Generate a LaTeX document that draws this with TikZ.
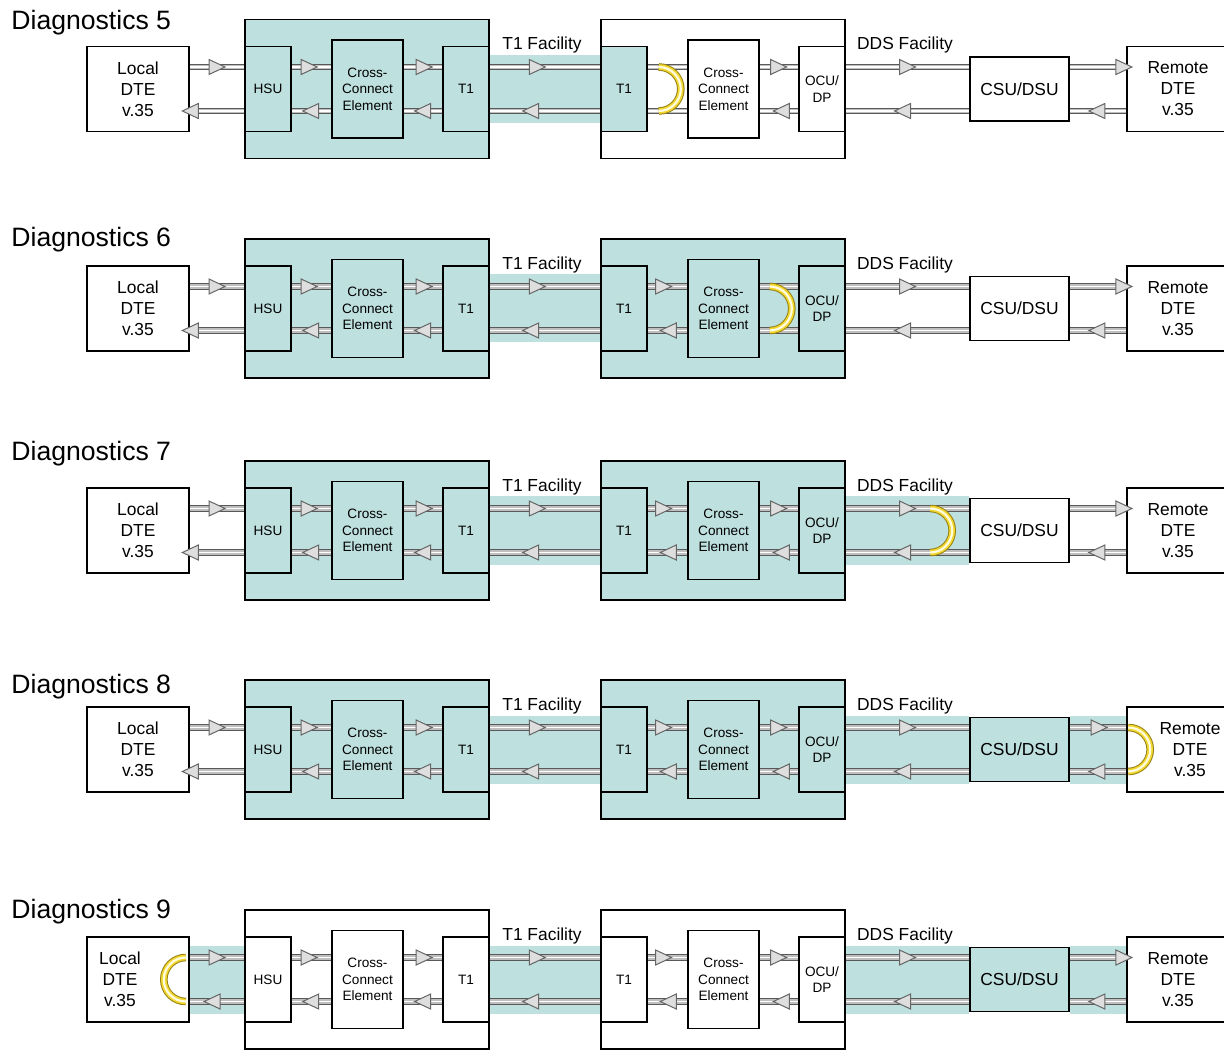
\documentclass[tikz,border=0pt]{standalone}
\usepackage{fontspec}
\setmainfont{Liberation Sans}
\usetikzlibrary{positioning,fit,calc,backgrounds,decorations.markings}
\definecolor{diagteal}{RGB}{190,224,222}
\definecolor{loopedge}{RGB}{150,130,20}
\definecolor{loopfill}{RGB}{242,214,48}
\definecolor{loopcore}{RGB}{255,251,222}

\begin{document}
\begin{tikzpicture}[
    x=0.5pt, y=-0.5pt,
    bigfont/.style={font=\fontsize{8.7}{10.5}\selectfont},
    smallfont/.style={font=\fontsize{6.8}{8.3}\selectfont},
    box/.style={draw=black, line width=0.8pt, inner sep=0pt, align=center},
    dte/.style={box, fill=white, minimum width=51pt, minimum height=42.5pt},
    card/.style={box, smallfont, minimum width=23pt, minimum height=42.5pt},
    xconn/.style={card, minimum width=35.5pt, minimum height=49pt},
    csudsu/.style={box, bigfont, minimum width=49.5pt, minimum height=32pt},
    site/.style={draw=black, line width=0.8pt, inner xsep=-0.4pt, inner ysep=13.1pt},
    dtetext/.style={bigfont, align=center, inner sep=0pt},
    facility/.style={bigfont, anchor=base, inner sep=0pt},
    title/.style={font=\fontsize{13.3}{16}\selectfont, anchor=base west, inner sep=0pt},
    tiphead/.style={draw=black!60, fill=black!13, line width=0.5pt},
    pipe/.style={draw=black!25, line width=2.2pt,
                 preaction={draw=black!65, line width=3.4pt},
                 postaction={draw=white, line width=0.6pt}},
    flow/.style={pipe, postaction={decorate}, decoration={markings,
                 mark=at position #1 with {\draw[tiphead] (-4pt,-3.75pt) -- (4pt,0pt) -- (-4pt,3.75pt) -- cycle;}}},
    loopback/.style={draw=loopfill, line width=2.8pt,
                     preaction={draw=loopedge, line width=3.8pt},
                     postaction={draw=loopcore, line width=1.1pt}}
]
\useasboundingbox (0,0) rectangle (1224,1052);
\foreach \dg/\yc/\yt/\fa/\fb/\ft/\fc/\shl/\shd/\shr/\lx/\rx/\al/\ar in {
    5/89/30/diagteal/white/diagteal/white/none/none/none/0pt/0pt/.99/.96,
    6/308.5/247/diagteal/diagteal/diagteal/white/none/none/none/0pt/0pt/.99/.96,
    7/530.5/461/diagteal/diagteal/diagteal/white/none/diagteal/none/0pt/0pt/.99/.96,
    8/749.5/693/diagteal/diagteal/diagteal/diagteal/none/diagteal/diagteal/0pt/6pt/.99/.52,
    9/979.5/918/white/white/white/diagteal/diagteal/diagteal/diagteal/-9pt/0pt/.59/.96}{
\coordinate (up\dg) at (0,\yc-22);
\coordinate (dn\dg) at (0,\yc+22);
\coordinate (sht\dg) at (0,\yc-34);
\coordinate (shb\dg) at (0,\yc+34);
\node[title] (diag\dg) at (11,\yt) {Diagnostics \dg};
\node[dte] (local\dg) at (138,\yc) {};
\node[dtetext, xshift=\lx] (localtxt\dg) at (local\dg) {Local\\DTE\\v.35};
\node[card, fill=\fa, right=27.2pt of local\dg] (hsu\dg) {HSU};
\node[xconn, fill=\fa, right=19.7pt of hsu\dg] (xcA\dg) {Cross-\\Connect\\Element};
\node[card, fill=\fa, right=19.2pt of xcA\dg] (tA\dg) {T1};
\node[card, fill=\ft, right=55.2pt of tA\dg] (tB\dg) {T1};
\node[xconn, fill=\fb, right=19.7pt of tB\dg] (xcB\dg) {Cross-\\Connect\\Element};
\node[card, fill=\fb, right=19.2pt of xcB\dg] (ocu\dg) {OCU/\\DP};
\node[csudsu, fill=\fc, right=61.7pt of ocu\dg] (csu\dg) {CSU/DSU};
\node[dte, right=28.2pt of csu\dg] (remote\dg) {};
\node[dtetext, xshift=\rx] (remotetxt\dg) at (remote\dg) {Remote\\DTE\\v.35};
\node[facility] (t1fac\dg) at (542,\yc-39) {T1 Facility};
\node[facility] (ddsfac\dg) at (905,\yc-39) {DDS Facility};
\begin{scope}[on background layer]
  \node[site, fill=\fa, fit=(hsu\dg)(tA\dg)] (siteA\dg) {};
  \node[site, fill=\fb, fit=(tB\dg)(ocu\dg)] (siteB\dg) {};
  \path[fill=\shl] (local\dg.east |- sht\dg) rectangle (hsu\dg.west |- shb\dg);
  \fill[diagteal] (tA\dg.east |- sht\dg) rectangle (tB\dg.west |- shb\dg);
  \path[fill=\shd] (ocu\dg.east |- sht\dg) rectangle (csu\dg.west |- shb\dg);
  \path[fill=\shr] (csu\dg.east |- sht\dg) rectangle (remote\dg.west |- shb\dg);
\end{scope}
\draw[flow=.5] (local\dg.east |- up\dg) -- (hsu\dg.west |- up\dg);
\draw[flow=\al] (hsu\dg.west |- dn\dg) -- (local\dg.east |- dn\dg);
\draw[flow=.44] (hsu\dg.east |- up\dg) -- (xcA\dg.west |- up\dg);
\draw[flow=.52] (xcA\dg.west |- dn\dg) -- (hsu\dg.east |- dn\dg);
\draw[flow=.53] (xcA\dg.east |- up\dg) -- (tA\dg.west |- up\dg);
\draw[flow=.51] (tA\dg.west |- dn\dg) -- (xcA\dg.east |- dn\dg);
\draw[flow=.43] (tA\dg.east |- up\dg) -- (tB\dg.west |- up\dg);
\draw[flow=.63] (tB\dg.west |- dn\dg) -- (tA\dg.east |- dn\dg);
\ifnum\dg=5
  \draw[pipe] (tB\dg.east |- up\dg) -- (xcB\dg.west |- up\dg);
  \draw[pipe] (xcB\dg.west |- dn\dg) -- (tB\dg.east |- dn\dg);
\else
  \draw[flow=.4] (tB\dg.east |- up\dg) -- (xcB\dg.west |- up\dg);
  \draw[flow=.48] (xcB\dg.west |- dn\dg) -- (tB\dg.east |- dn\dg);
\fi
\ifnum\dg=6
  \draw[pipe] (xcB\dg.east |- up\dg) -- (ocu\dg.west |- up\dg);
  \draw[pipe] (ocu\dg.west |- dn\dg) -- (xcB\dg.east |- dn\dg);
\else
  \draw[flow=.49] (xcB\dg.east |- up\dg) -- (ocu\dg.west |- up\dg);
  \draw[flow=.44] (ocu\dg.west |- dn\dg) -- (xcB\dg.east |- dn\dg);
\fi
\draw[flow=.5] (ocu\dg.east |- up\dg) -- (csu\dg.west |- up\dg);
\draw[flow=.54] (csu\dg.west |- dn\dg) -- (ocu\dg.east |- dn\dg);
\draw[flow=\ar] (csu\dg.east |- up\dg) -- (remote\dg.west |- up\dg);
\draw[flow=.52] (remote\dg.west |- dn\dg) -- (csu\dg.east |- dn\dg);
}
\coordinate (lb5) at ($(tB5.east |- up5)+(11,0)$);
\coordinate (lb6) at ($(xcB6.east |- up6)+(10,0)$);
\coordinate (lb7) at ($(csu7.west |- up7)+(-39,0)$);
\coordinate (lb8) at ($(remote8.west |- up8)+(2,0)$);
\coordinate (lb9) at ($(local9.east |- up9)+(-4,0)$);
\draw[loopback] (lb5) arc[start angle=-90, end angle=90, radius=22];
\draw[loopback] (lb6) arc[start angle=-90, end angle=90, radius=22];
\draw[loopback] (lb7) arc[start angle=-90, end angle=90, radius=22];
\draw[loopback] (lb8) arc[start angle=-90, end angle=90, radius=22];
\draw[loopback] (lb9) arc[start angle=-90, end angle=-270, radius=22];
\end{tikzpicture}
\end{document}
